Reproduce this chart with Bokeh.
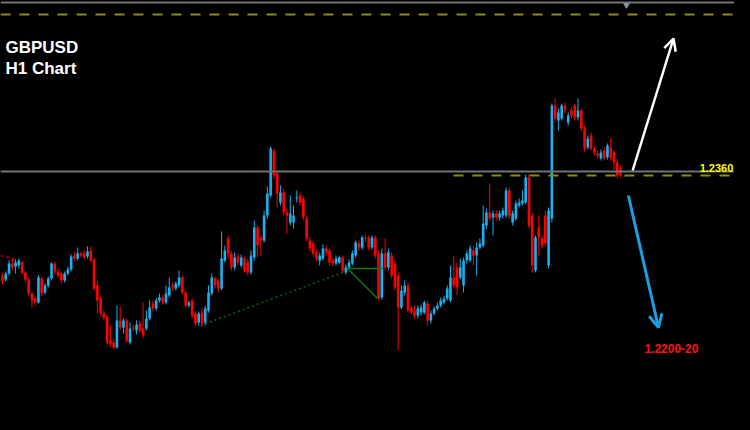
from bokeh.plotting import figure
from bokeh.models import Range1d, Span, Label, Arrow, OpenHead, ColumnDataSource
from bokeh.embed import file_html
from bokeh.resources import INLINE

# ---- GBPUSD H1 candles (prices) ----
open_ = [
    1.2256, 1.2252, 1.2258, 1.2268, 1.2265, 1.2266, 1.2269, 1.2259, 1.2252, 1.2238,
    1.2233, 1.2229, 1.2253, 1.2239, 1.2246, 1.2253, 1.2268, 1.2260, 1.2258, 1.2251,
    1.2258, 1.2262, 1.2276, 1.2273, 1.2278, 1.2278, 1.2275, 1.2281, 1.2272, 1.2246,
    1.2233, 1.2218, 1.2215, 1.2191, 1.2189, 1.2184, 1.2211, 1.2204, 1.2211, 1.2189,
    1.2204, 1.2201, 1.2208, 1.2203, 1.2203, 1.2213, 1.2228, 1.2223, 1.2231, 1.2234,
    1.2229, 1.2236, 1.2246, 1.2243, 1.2246, 1.2254, 1.2239, 1.2226, 1.2231, 1.2218,
    1.2209, 1.2219, 1.2209, 1.2221, 1.2238, 1.2253, 1.2251, 1.2243, 1.2271, 1.2293,
    1.2278, 1.2264, 1.2275, 1.2266, 1.2273, 1.2269, 1.2259, 1.2274, 1.2304, 1.2294,
    1.2291, 1.2316, 1.2336, 1.2381, 1.2358, 1.2329, 1.2339, 1.2319, 1.2309, 1.2309,
    1.2333, 1.2336, 1.2333, 1.2313, 1.2291, 1.2288, 1.2279, 1.2271, 1.2273, 1.2283,
    1.2281, 1.2271, 1.2268, 1.2269, 1.2274, 1.2259, 1.2264, 1.2268, 1.2276, 1.2288,
    1.2284, 1.2294, 1.2294, 1.2284, 1.2294, 1.2278, 1.2234, 1.2278, 1.2264, 1.2276,
    1.2268, 1.2256, 1.2224, 1.2239, 1.2246, 1.2223, 1.2221, 1.2216, 1.2219, 1.2219,
    1.2228, 1.2211, 1.2218, 1.2223, 1.2226, 1.2229, 1.2233, 1.2231, 1.2254, 1.2264,
    1.2254, 1.2246, 1.2271, 1.2271, 1.2281, 1.2276, 1.2284, 1.2286, 1.2306, 1.2319,
    1.2314, 1.2318, 1.2314, 1.2316, 1.2316, 1.2341, 1.2309, 1.2313, 1.2326, 1.2328,
    1.2329, 1.2354, 1.2316, 1.2261, 1.2304, 1.2293, 1.2316, 1.2266, 1.2313, 1.2426,
    1.2411, 1.2413, 1.2426, 1.2409, 1.2421, 1.2426, 1.2414, 1.2421, 1.2404, 1.2384,
    1.2396, 1.2383, 1.2378, 1.2373, 1.2381, 1.2374, 1.2384, 1.2379, 1.2369, 1.2363,
]
high = [
    1.2259, 1.2260, 1.2271, 1.2273, 1.2272, 1.2273, 1.2271, 1.2261, 1.2254, 1.2240,
    1.2235, 1.2256, 1.2255, 1.2248, 1.2255, 1.2269, 1.2270, 1.2263, 1.2260, 1.2260,
    1.2265, 1.2277, 1.2279, 1.2284, 1.2280, 1.2281, 1.2285, 1.2285, 1.2274, 1.2251,
    1.2235, 1.2221, 1.2217, 1.2206, 1.2193, 1.2226, 1.2225, 1.2213, 1.2213, 1.2209,
    1.2207, 1.2211, 1.2211, 1.2229, 1.2221, 1.2231, 1.2231, 1.2234, 1.2238, 1.2237,
    1.2246, 1.2254, 1.2249, 1.2250, 1.2261, 1.2256, 1.2241, 1.2231, 1.2233, 1.2221,
    1.2220, 1.2224, 1.2226, 1.2246, 1.2258, 1.2255, 1.2253, 1.2300, 1.2286, 1.2296,
    1.2281, 1.2279, 1.2278, 1.2277, 1.2275, 1.2273, 1.2281, 1.2311, 1.2306, 1.2296,
    1.2321, 1.2345, 1.2385, 1.2383, 1.2361, 1.2346, 1.2343, 1.2323, 1.2336, 1.2326,
    1.2341, 1.2339, 1.2336, 1.2315, 1.2295, 1.2290, 1.2282, 1.2279, 1.2287, 1.2286,
    1.2283, 1.2274, 1.2276, 1.2276, 1.2276, 1.2267, 1.2272, 1.2281, 1.2291, 1.2291,
    1.2296, 1.2297, 1.2296, 1.2296, 1.2296, 1.2281, 1.2283, 1.2293, 1.2283, 1.2279,
    1.2271, 1.2259, 1.2246, 1.2251, 1.2249, 1.2226, 1.2226, 1.2226, 1.2227, 1.2231,
    1.2231, 1.2221, 1.2225, 1.2229, 1.2234, 1.2236, 1.2246, 1.2266, 1.2276, 1.2269,
    1.2273, 1.2274, 1.2281, 1.2286, 1.2286, 1.2289, 1.2293, 1.2326, 1.2323, 1.2348,
    1.2321, 1.2321, 1.2321, 1.2324, 1.2344, 1.2344, 1.2321, 1.2331, 1.2333, 1.2341,
    1.2357, 1.2357, 1.2319, 1.2296, 1.2316, 1.2296, 1.2321, 1.2324, 1.2428, 1.2433,
    1.2423, 1.2428, 1.2429, 1.2419, 1.2424, 1.2428, 1.2433, 1.2423, 1.2406, 1.2396,
    1.2399, 1.2385, 1.2381, 1.2382, 1.2384, 1.2388, 1.2393, 1.2381, 1.2373, 1.2366,
]
low = [
    1.2247, 1.2250, 1.2256, 1.2261, 1.2258, 1.2263, 1.2257, 1.2249, 1.2236, 1.2224,
    1.2226, 1.2228, 1.2235, 1.2237, 1.2244, 1.2251, 1.2257, 1.2254, 1.2248, 1.2249,
    1.2256, 1.2260, 1.2270, 1.2271, 1.2274, 1.2272, 1.2273, 1.2269, 1.2241, 1.2218,
    1.2216, 1.2211, 1.2187, 1.2185, 1.2182, 1.2183, 1.2201, 1.2198, 1.2189, 1.2187,
    1.2200, 1.2197, 1.2199, 1.2193, 1.2201, 1.2211, 1.2220, 1.2221, 1.2229, 1.2227,
    1.2227, 1.2234, 1.2241, 1.2241, 1.2244, 1.2237, 1.2224, 1.2224, 1.2213, 1.2205,
    1.2206, 1.2205, 1.2206, 1.2219, 1.2236, 1.2243, 1.2239, 1.2241, 1.2269, 1.2273,
    1.2261, 1.2261, 1.2266, 1.2264, 1.2259, 1.2256, 1.2257, 1.2271, 1.2274, 1.2276,
    1.2289, 1.2313, 1.2334, 1.2353, 1.2324, 1.2326, 1.2316, 1.2298, 1.2306, 1.2303,
    1.2329, 1.2326, 1.2311, 1.2290, 1.2280, 1.2275, 1.2270, 1.2266, 1.2271, 1.2276,
    1.2266, 1.2265, 1.2266, 1.2267, 1.2259, 1.2257, 1.2262, 1.2266, 1.2274, 1.2281,
    1.2282, 1.2290, 1.2281, 1.2282, 1.2273, 1.2231, 1.2232, 1.2261, 1.2261, 1.2253,
    1.2241, 1.2181, 1.2222, 1.2236, 1.2219, 1.2217, 1.2213, 1.2213, 1.2216, 1.2217,
    1.2206, 1.2208, 1.2216, 1.2221, 1.2224, 1.2227, 1.2231, 1.2229, 1.2243, 1.2237,
    1.2252, 1.2239, 1.2268, 1.2269, 1.2266, 1.2256, 1.2282, 1.2284, 1.2303, 1.2310,
    1.2296, 1.2311, 1.2311, 1.2313, 1.2314, 1.2313, 1.2306, 1.2311, 1.2324, 1.2326,
    1.2327, 1.2303, 1.2259, 1.2259, 1.2276, 1.2283, 1.2285, 1.2263, 1.2309, 1.2409,
    1.2401, 1.2411, 1.2418, 1.2406, 1.2413, 1.2411, 1.2411, 1.2400, 1.2380, 1.2382,
    1.2381, 1.2376, 1.2373, 1.2371, 1.2371, 1.2372, 1.2371, 1.2359, 1.2353, 1.2354,
]
close = [
    1.2250, 1.2258, 1.2268, 1.2264, 1.2269, 1.2271, 1.2259, 1.2252, 1.2238, 1.2231,
    1.2229, 1.2254, 1.2238, 1.2246, 1.2253, 1.2268, 1.2260, 1.2256, 1.2251, 1.2258,
    1.2262, 1.2275, 1.2273, 1.2278, 1.2276, 1.2274, 1.2280, 1.2271, 1.2243, 1.2231,
    1.2218, 1.2214, 1.2189, 1.2188, 1.2184, 1.2211, 1.2204, 1.2211, 1.2191, 1.2203,
    1.2203, 1.2207, 1.2201, 1.2196, 1.2213, 1.2224, 1.2223, 1.2231, 1.2234, 1.2229,
    1.2238, 1.2244, 1.2244, 1.2248, 1.2254, 1.2239, 1.2226, 1.2229, 1.2216, 1.2208,
    1.2218, 1.2208, 1.2223, 1.2239, 1.2254, 1.2246, 1.2243, 1.2273, 1.2281, 1.2278,
    1.2264, 1.2274, 1.2269, 1.2274, 1.2261, 1.2259, 1.2276, 1.2304, 1.2286, 1.2291,
    1.2316, 1.2338, 1.2383, 1.2356, 1.2338, 1.2339, 1.2319, 1.2316, 1.2318, 1.2316,
    1.2334, 1.2329, 1.2314, 1.2293, 1.2283, 1.2278, 1.2273, 1.2276, 1.2283, 1.2279,
    1.2269, 1.2268, 1.2273, 1.2274, 1.2261, 1.2264, 1.2269, 1.2278, 1.2289, 1.2284,
    1.2294, 1.2293, 1.2284, 1.2294, 1.2276, 1.2233, 1.2278, 1.2264, 1.2279, 1.2256,
    1.2244, 1.2224, 1.2241, 1.2246, 1.2221, 1.2219, 1.2216, 1.2223, 1.2224, 1.2229,
    1.2211, 1.2218, 1.2223, 1.2226, 1.2231, 1.2233, 1.2243, 1.2254, 1.2246, 1.2244,
    1.2264, 1.2271, 1.2278, 1.2283, 1.2276, 1.2284, 1.2288, 1.2308, 1.2319, 1.2313,
    1.2318, 1.2314, 1.2318, 1.2321, 1.2341, 1.2316, 1.2318, 1.2328, 1.2329, 1.2331,
    1.2354, 1.2306, 1.2266, 1.2294, 1.2294, 1.2286, 1.2288, 1.2321, 1.2426, 1.2413,
    1.2419, 1.2426, 1.2421, 1.2416, 1.2416, 1.2414, 1.2421, 1.2403, 1.2383, 1.2393,
    1.2383, 1.2379, 1.2376, 1.2379, 1.2373, 1.2386, 1.2374, 1.2369, 1.2356, 1.2356,
]
bar_index = list(range(len(open_)))

# ---- levels, labels and drawn objects (index / price units) ----
level_resistance = 1.2360      # grey horizontal line
label_resistance = "1.2360"
level_top_dash = 1.2517        # yellow dashed line at top
level_top_border = 1.2529      # grey border line at top
level_break_dash = 1.2356      # yellow dashed line just under resistance
break_dash_from = 137.9
target_label = "1.2200-20"
title_lines = ["GBPUSD", "H1 Chart"]
shift_marker = dict(x=[190.8], y=[1.2527])

up_arrow = dict(x_start=192.7, y_start=1.2361, x_end=205.2, y_end=1.2493)
down_arrow = dict(x_start=191.4, y_start=1.2336, x_end=200.6, y_end=1.2204)
green_trend_x = [60.55, 104.9]
green_trend_y = [1.2206, 1.2260]
green_flat_x = [105.5, 116.5]
green_flat_y = [1.2263, 1.2263]
green_diag_x = [105.5, 114.7]
green_diag_y = [1.2263, 1.2233]
red_trend_x = [-0.6, 4.0]
red_trend_y = [1.2276, 1.2272]

BULL = "#19b2ee"
BEAR = "#ff0000"
colors = [BULL if c >= o else BEAR for o, c in zip(open_, close)]
src = ColumnDataSource(dict(
    x=bar_index, open=open_, close=close, high=high, low=low,
    top=[max(o, c) for o, c in zip(open_, close)],
    bottom=[min(o, c) for o, c in zip(open_, close)],
    color=colors,
))

p = figure(width=734, height=414, output_backend="svg", toolbar_location=None,
           x_range=Range1d(-0.61, 223.85), y_range=Range1d(1.2117, 1.2531),
           x_axis_location=None, y_axis_location=None,
           background_fill_color="#000000", border_fill_color="#000000",
           min_border=0, outline_line_color=None)
p.grid.visible = False

# top border line and dashed level
p.add_layout(Span(location=level_top_border, dimension="width", line_color="#6f737a",
                  line_width=2))
p.add_layout(Span(location=level_top_dash, dimension="width", line_color="#8c8c14",
                  line_width=2, line_dash="10 9"))
p.scatter(x=shift_marker["x"], y=shift_marker["y"], marker="inverted_triangle", size=8,
          fill_color="#8a96a6", line_color=None)

# trend lines
p.line(red_trend_x, red_trend_y, line_color="#aa0000", line_width=1.5, line_dash="3 3")
p.line(green_trend_x, green_trend_y, line_color="#0b6a0b", line_width=1.5, line_dash="2 3")

# candles
p.segment(x0="x", y0="high", x1="x", y1="low", line_color="color", line_width=1, source=src)
p.vbar(x="x", width=0.8, top="top", bottom="bottom", fill_color="color",
       line_color=None, source=src)

p.line(green_flat_x, green_flat_y, line_color="#0c7a0c", line_width=1.5)
p.line(green_diag_x, green_diag_y, line_color="#0c7a0c", line_width=1.5)

# resistance line + dashed break line
p.add_layout(Span(location=level_resistance, dimension="width", line_color="#6f737a",
                  line_width=2))
p.line([break_dash_from, 230], [level_break_dash, level_break_dash], line_color="#8c8c14",
       line_width=2, line_dash="10 9")

# arrows
p.add_layout(Arrow(end=OpenHead(size=12, line_color="#ffffff", line_width=2.5),
                   line_color="#ffffff", line_width=2.5, **up_arrow))
p.add_layout(Arrow(end=OpenHead(size=13, line_color="#1a9fe0", line_width=3),
                   line_color="#1a9fe0", line_width=3, **down_arrow))

# texts
p.add_layout(Label(x=0.92, y=1.2484, text=title_lines[0], text_color="#ffffff",
                   text_font="Liberation Sans", text_font_style="bold",
                   text_font_size="17px", text_baseline="alphabetic"))
p.add_layout(Label(x=0.92, y=1.2463, text=title_lines[1], text_color="#ffffff",
                   text_font="Liberation Sans", text_font_style="bold",
                   text_font_size="17px", text_baseline="alphabetic"))
p.add_layout(Label(x=213.2, y=1.2364, text=label_resistance, text_color="#ffff00",
                   text_font="Liberation Sans", text_font_style="bold",
                   text_font_size="11px", text_baseline="alphabetic"))
p.add_layout(Label(x=196.3, y=1.2183, text=target_label, text_color="#ff1010",
                   text_font="Liberation Sans", text_font_style="bold",
                   text_font_size="12px", text_baseline="alphabetic"))

html = file_html(p, INLINE)
html = html.replace("</head>", "<style>html,body{background:#000000;}</style></head>", 1)
open("out.html", "w").write(html)
